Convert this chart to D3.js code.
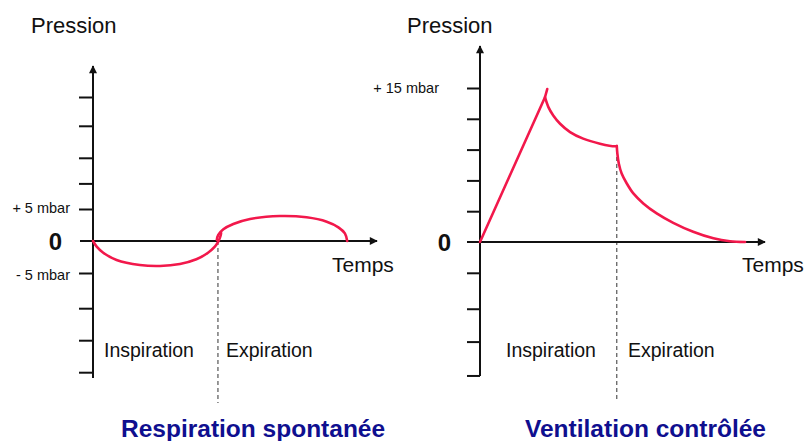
<!DOCTYPE html>
<html>
<head>
<meta charset="utf-8">
<script src="https://cdn.jsdelivr.net/npm/d3@7"></script>
<style>
  html, body { margin: 0; padding: 0; background: #ffffff; }
  svg { display: block; }
  text { font-family: "Liberation Sans", Arial, Helvetica, sans-serif; }
</style>
</head>
<body>
<svg id="chart" width="807" height="441"></svg>
<script>
// ---------------- DATA ----------------
const panelTitles = ["Respiration spontanée", "Ventilation contrôlée"];
const axisTitleY = "Pression";
const axisTitleX = "Temps";
const phaseLabels = ["Inspiration", "Expiration"];

// Left panel: spontaneous breathing (time in arbitrary units, pressure in mbar)
const spontInspT = [0, 0.13, 0.36, 0.83, 1.65, 2.36, 3.06, 3.64, 4.05, 4.29, 4.41, 4.49, 4.51];
const spontInspP = [0, -0.89, -1.83, -2.97, -3.75, -3.9, -3.59, -2.86, -1.83, -0.89, -0.11, 0.78, 1.25];
const spontExpT = [4.36, 4.41, 4.59, 4.94, 5.53, 6.58, 7.52, 8.23, 8.64, 8.87, 8.95];
const spontExpP = [0.16, 0.94, 1.83, 2.66, 3.44, 3.9, 3.7, 3.02, 2.14, 1.2, 0];
const spontPhaseSplit = 4.4;
const spontTicks = [22.5, 18, 13, 9, 5, -5, -10.5, -15.5, -20.5];
const spontTickLabels = [{ v: 5, text: "+ 5 mbar" }, { v: -5, text: "- 5 mbar" }];

// Right panel: controlled ventilation
const ventRampT = [0, 2.28, 2.36];
const ventRampP = [0, 14.1, 14.9];
const ventPlateauT = [2.28, 2.40, 2.57, 2.81, 3.16, 3.62, 4.21, 4.74, 4.8];
const ventPlateauP = [14.1, 13.14, 12.33, 11.52, 10.71, 10.07, 9.58, 9.32, 9.36];
const ventExpT = [4.8, 4.82, 4.87, 4.97, 5.15, 5.38, 5.73, 6.2, 6.78, 7.48, 8.19, 8.77, 9.3];
const ventExpP = [9.32, 8.61, 7.64, 6.67, 5.7, 4.73, 3.76, 2.79, 1.87, 1.0, 0.36, 0.07, 0];
const ventPhaseSplit = 4.8;
const ventTicks = [15, 12, 9, 6, 3, -3, -6.5, -9.7, -13];
const ventTickLabels = [{ v: 15, text: "+ 15 mbar" }];

// ---------------- LAYOUT ----------------
const svg = d3.select("#chart");
const RED = "#f2184b";
const BLUE = "#0f0f8f";
const INK = "#111111";

const defs = svg.append("defs");
defs.append("marker")
  .attr("id", "arrow")
  .attr("viewBox", "0 0 10 10")
  .attr("refX", 9).attr("refY", 5)
  .attr("markerWidth", 9).attr("markerHeight", 8)
  .attr("markerUnits", "userSpaceOnUse")
  .attr("orient", "auto")
  .append("path").attr("d", "M0,0 L10,5 L0,10 Z").attr("fill", INK);

const panels = [
  {
    xRange: [93, 377], yZeroPx: 241, yRefVal: 5, yRefPx: 209,
    yAxisTop: 66, yAxisBottom: 378, xAxisLeft: 80, tickLen: 14,
    ticks: spontTicks, tickLabels: spontTickLabels, labelRight: 70, labelDy: 4,
    split: spontPhaseSplit, dashTop: 241, dashBottom: 403,
    zeroX: 62, titleX: 31, tempsX: 332, inspX: 104, expX: 226,
    panelTitle: panelTitles[0], panelTitleX: 121,
    segments: [
      { t: spontInspT, p: spontInspP },
      { t: spontExpT, p: spontExpP }
    ]
  },
  {
    xRange: [480, 765], yZeroPx: 242, yRefVal: 15, yRefPx: 88,
    yAxisTop: 46, yAxisBottom: 376, xAxisLeft: 467, tickLen: 13,
    ticks: ventTicks, tickLabels: ventTickLabels, labelRight: 439, labelDy: 5,
    split: ventPhaseSplit, dashTop: 150, dashBottom: 399,
    zeroX: 451, titleX: 407, tempsX: 742, inspX: 506, expX: 628,
    panelTitle: panelTitles[1], panelTitleX: 525,
    segments: [
      { t: ventRampT, p: ventRampP, linear: true },
      { t: ventPlateauT, p: ventPlateauP },
      { t: ventExpT, p: ventExpP }
    ]
  }
];

panels.forEach((cfg) => {
  const g = svg.append("g");
  const x = d3.scaleLinear().domain([0, 10]).range(cfg.xRange);
  const y = d3.scaleLinear().domain([0, cfg.yRefVal]).range([cfg.yZeroPx, cfg.yRefPx]);
  const axX = x(0);

  // dashed phase separator
  g.append("line")
    .attr("x1", x(cfg.split)).attr("x2", x(cfg.split))
    .attr("y1", cfg.dashTop).attr("y2", cfg.dashBottom)
    .attr("stroke", "#333").attr("stroke-width", 1)
    .attr("stroke-dasharray", "4,3");

  // y ticks via d3 axis
  const yAxis = d3.axisLeft(y)
    .tickValues(cfg.ticks)
    .tickSize(cfg.tickLen)
    .tickFormat("");
  const ya = g.append("g").attr("transform", `translate(${axX},0)`).call(yAxis);
  ya.select(".domain").remove();
  ya.selectAll(".tick line").attr("stroke", INK).attr("stroke-width", 2);

  // y axis line with arrow
  g.append("line")
    .attr("x1", axX).attr("x2", axX)
    .attr("y1", cfg.yAxisBottom).attr("y2", cfg.yAxisTop)
    .attr("stroke", INK).attr("stroke-width", 2)
    .attr("marker-end", "url(#arrow)");

  // x axis line with arrow
  g.append("line")
    .attr("x1", cfg.xAxisLeft).attr("x2", x(10))
    .attr("y1", y(0)).attr("y2", y(0))
    .attr("stroke", INK).attr("stroke-width", 2)
    .attr("marker-end", "url(#arrow)");

  // curves
  cfg.segments.forEach((seg) => {
    const pts = seg.t.map((t, i) => [t, seg.p[i]]);
    const line = d3.line()
      .x(d => x(d[0])).y(d => y(d[1]))
      .curve(seg.linear ? d3.curveLinear : d3.curveCatmullRom.alpha(0.5));
    g.append("path")
      .attr("d", line(pts))
      .attr("fill", "none")
      .attr("stroke", RED)
      .attr("stroke-width", 2.6)
      .attr("stroke-linecap", "round")
      .attr("stroke-linejoin", "round");
  });

  // tick labels
  cfg.tickLabels.forEach((tl) => {
    g.append("text")
      .attr("x", cfg.labelRight)
      .attr("y", y(tl.v) + cfg.labelDy + (tl.v < 0 ? 3 : 0))
      .attr("text-anchor", "end")
      .attr("font-size", 14.5)
      .attr("fill", INK)
      .text(tl.text);
  });

  // zero label
  g.append("text")
    .attr("x", cfg.zeroX).attr("y", y(0) + 9)
    .attr("text-anchor", "end")
    .attr("font-size", 24).attr("font-weight", "bold")
    .attr("fill", INK)
    .text("0");

  // axis titles
  g.append("text")
    .attr("x", cfg.titleX).attr("y", 33)
    .attr("font-size", 22).attr("fill", INK)
    .text(axisTitleY);
  g.append("text")
    .attr("x", cfg.tempsX).attr("y", 272)
    .attr("font-size", 21).attr("fill", INK)
    .text(axisTitleX);

  // phase labels
  g.append("text")
    .attr("x", cfg.inspX).attr("y", 357)
    .attr("font-size", 19.5).attr("fill", INK)
    .text(phaseLabels[0]);
  g.append("text")
    .attr("x", cfg.expX).attr("y", 357)
    .attr("font-size", 19.5).attr("fill", INK)
    .text(phaseLabels[1]);

  // panel title
  g.append("text")
    .attr("x", cfg.panelTitleX).attr("y", 437)
    .attr("font-size", 24.5).attr("font-weight", "bold")
    .attr("fill", BLUE)
    .text(cfg.panelTitle);
});
</script>
</body>
</html>
